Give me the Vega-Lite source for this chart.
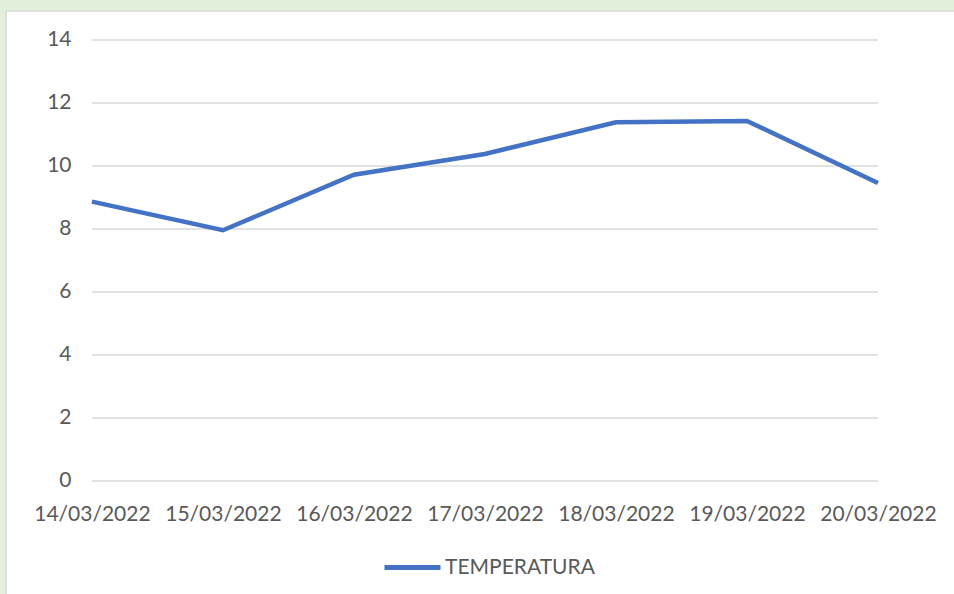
{
  "$schema": "https://vega.github.io/schema/vega-lite/v6.json",
  "autosize": {"type": "none"},
  "padding": {"left": 6, "top": 11, "right": 0, "bottom": 0},
  "width": 950,
  "height": 590,
  "background": "#E2EFDA",
  "datasets": {
    "temp": [
      {"fecha": "14/03/2022", "temperatura": 8.87},
      {"fecha": "15/03/2022", "temperatura": 7.96},
      {"fecha": "16/03/2022", "temperatura": 9.72},
      {"fecha": "17/03/2022", "temperatura": 10.38},
      {"fecha": "18/03/2022", "temperatura": 11.39},
      {"fecha": "19/03/2022", "temperatura": 11.43},
      {"fecha": "20/03/2022", "temperatura": 9.46}
    ],
    "grid": [
      {"v": 0}, {"v": 2}, {"v": 4}, {"v": 6}, {"v": 8}, {"v": 10}, {"v": 12}, {"v": 14}
    ]
  },
  "layer": [
    {
      "data": {"name": "grid"},
      "mark": {"type": "rule", "color": "#D9D9D9", "strokeWidth": 1.5},
      "encoding": {
        "y": {"field": "v", "type": "quantitative"},
        "x": {"datum": "14/03/2022", "type": "ordinal"},
        "x2": {"datum": "20/03/2022"}
      }
    },
    {
      "data": {"name": "temp"},
      "mark": {"type": "line", "strokeWidth": 4.5, "strokeCap": "butt", "strokeJoin": "miter"},
      "encoding": {
        "x": {
          "field": "fecha",
          "type": "ordinal",
          "sort": null,
          "scale": {
            "type": "point",
            "domain": ["14/03/2022", "15/03/2022", "16/03/2022", "17/03/2022", "18/03/2022", "19/03/2022", "20/03/2022"],
            "padding": 0.626,
            "align": 0.524
          },
          "axis": {
            "title": null,
            "orient": "bottom",
            "offset": -120,
            "domain": false,
            "ticks": false,
            "tickSize": 0,
            "labelAngle": 0,
            "labelAlign": "center",
            "labelFlush": false,
            "labelPadding": 33,
            "labelFont": "Lato",
            "labelFontSize": 21,
            "labelColor": "#595959",
            "grid": false
          }
        },
        "y": {
          "field": "temperatura",
          "type": "quantitative",
          "scale": {"domain": [-3.81, 14.92], "nice": false, "zero": false},
          "axis": {
            "title": null,
            "orient": "left",
            "offset": -70,
            "values": [0, 2, 4, 6, 8, 10, 12, 14],
            "domain": false,
            "ticks": false,
            "tickSize": 0,
            "labelPadding": 5,
            "labelFont": "Lato",
            "labelFontSize": 21,
            "labelColor": "#595959",
            "grid": false
          }
        },
        "color": {
          "datum": "TEMPERATURA",
          "type": "nominal",
          "scale": {"range": ["#4472C4"]},
          "legend": {
            "title": null,
            "orient": "none",
            "legendX": 376,
            "legendY": 526,
            "symbolType": "stroke",
            "symbolSize": 3136,
            "symbolStrokeWidth": 5,
            "symbolOffset": 0,
            "labelOffset": 2,
            "padding": 0,
            "labelFont": "Lato",
            "labelFontSize": 21,
            "labelColor": "#595959"
          }
        }
      }
    }
  ],
  "config": {
    "view": {"fill": "white", "stroke": "#D9D9D9", "strokeWidth": 1.5}
  }
}
